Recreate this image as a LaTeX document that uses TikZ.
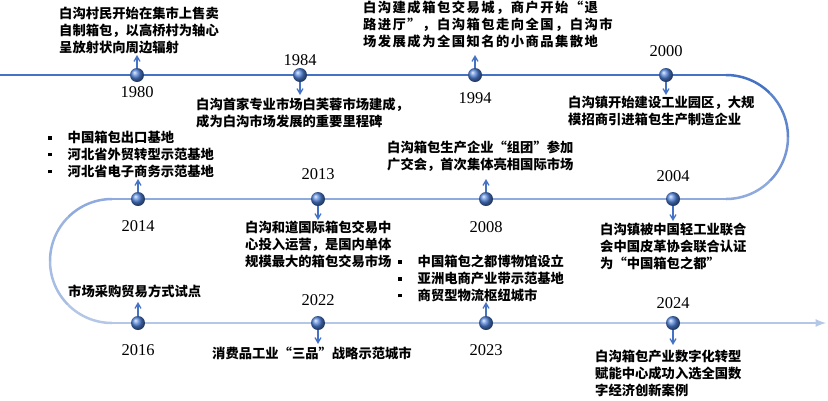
\documentclass[tikz,border=0pt]{standalone}
\usepackage{fontspec}
\setmainfont{Liberation Serif}
\newfontfamily\cjk{Noto Sans CJK SC}
\usepackage{tikz}
\usetikzlibrary{arrows,calc}
\definecolor{lineA}{RGB}{68,114,196}
\definecolor{lineB}{RGB}{143,170,220}
\definecolor{lineC}{RGB}{180,199,231}
\definecolor{dotblue}{RGB}{78,128,215}
\newcommand{\sqbul}{\rule[3pt]{3.5pt}{3.5pt}\hspace{16pt}}

\begin{document}
\begin{tikzpicture}[x=1pt,y=-1pt,
    yr/.style={font=\fontsize{16.5}{18}\selectfont},
    ev/.style={anchor=north west,inner sep=0pt,align=left,
      font=\cjk\bfseries\fontsize{13.3}{16.8}\selectfont},
    evw/.style={ev,font=\cjk\bfseries\fontsize{13.3}{16.8}\selectfont\addfontfeature{LetterSpace=11}},
    tdot/.style={circle,inner sep=0pt,minimum size=14pt,ball color=dotblue}]
    \useasboundingbox (0,0) rectangle (828,400);
    % the winding line
    \draw[lineA,line width=2.5pt] (0,75) -- (726,75);
    \foreach \a/\c in {-90/100,-45/67,0/33,45/0}
      \draw[lineA!\c!lineB,line width=2.5pt] ($(726,137)+(\a:62)$) arc(\a:\a+45:62);
    \draw[lineB,line width=2.5pt] (726,199) -- (112,199);
    \foreach \a/\c in {270/100,225/67,180/33,135/0}
      \draw[lineB!\c!lineC,line width=2.5pt] ($(112,261)+(\a:62)$) arc(\a:\a-45:62);
    \draw[lineC,line width=2.5pt,->,>=latex] (112,323) -- (826,323);

    % dots and tips
    \node[tdot] (D1980) at (137,75) {};  \coordinate (P1980) at (137,55);
    \node[tdot] (D1984) at (300,75) {};  \coordinate (P1984) at (300,95);
    \node[tdot] (D1994) at (475,75) {};  \coordinate (P1994) at (475,55);
    \node[tdot] (D2000) at (666,75) {};  \coordinate (P2000) at (666,95);
    \node[tdot] (D2004) at (673,199) {}; \coordinate (P2004) at (673,221);
    \node[tdot] (D2008) at (486,199) {}; \coordinate (P2008) at (486,179);
    \node[tdot] (D2013) at (318,199) {}; \coordinate (P2013) at (318,220);
    \node[tdot] (D2014) at (138,199) {}; \coordinate (P2014) at (138,179);
    \node[tdot] (D2016) at (138,323) {}; \coordinate (P2016) at (138,302);
    \node[tdot] (D2022) at (318,323) {}; \coordinate (P2022) at (318,344);
    \node[tdot] (D2023) at (486,323) {}; \coordinate (P2023) at (486,302);
    \node[tdot] (D2024) at (673,323) {}; \coordinate (P2024) at (673,345);
    \path[->,>=angle 60,line width=1.3pt,color=lineA]
      (D1980) edge (P1980)
      (D1984) edge (P1984)
      (D1994) edge (P1994)
      (D2000) edge (P2000)
      (D2004) edge (P2004)
      (D2008) edge (P2008)
      (D2013) edge (P2013)
      (D2014) edge (P2014)
      (D2016) edge (P2016)
      (D2022) edge (P2022)
      (D2023) edge (P2023)
      (D2024) edge (P2024);

    % years
    \node[yr] (Y1980) at (137,92) {1980};
    \node[yr] (Y1984) at (300,60) {1984};
    \node[yr] (Y1994) at (475,98) {1994};
    \node[yr] (Y2000) at (666,51) {2000};
    \node[yr] (Y2004) at (673,176) {2004};
    \node[yr] (Y2008) at (486,227) {2008};
    \node[yr] (Y2013) at (318,174) {2013};
    \node[yr] (Y2014) at (138,226) {2014};
    \node[yr] (Y2016) at (138,350) {2016};
    \node[yr] (Y2022) at (318,300) {2022};
    \node[yr] (Y2023) at (486,350) {2023};
    \node[yr] (Y2024) at (673,303) {2024};

    % events
    \node[ev] (T1980) at (59,7) {白沟村民开始在集市上售卖\\自制箱包，以高桥村为轴心\\呈放射状向周边辐射};
    \node[ev] (T1984) at (196,98) {白沟首家专业市场白芙蓉市场建成，\\成为白沟市场发展的重要里程碑};
    \node[evw] (T1994) at (363,1) {白沟建成箱包交易城，商户开始“退\\路进厅”，白沟箱包走向全国，白沟市\\场发展成为全国知名的小商品集散地};
    \node[ev] (T2000) at (568,96) {白沟镇开始建设工业园区，大规\\模招商引进箱包生产制造企业};
    \node[ev] (T2004) at (600,223) {白沟镇被中国轻工业联合\\会中国皮革协会联合认证\\为“中国箱包之都”};
    \node[ev] (T2008) at (387,141) {白沟箱包生产企业“组团”参加\\广交会，首次集体亮相国际市场};
    \node[ev] (T2013) at (245,221) {白沟和道国际箱包交易中\\心投入运营，是国内单体\\规模最大的箱包交易市场};
    \node[ev] (T2014) at (48,131) {\sqbul 中国箱包出口基地\\\sqbul 河北省外贸转型示范基地\\\sqbul 河北省电子商务示范基地};
    \node[ev] (T2016) at (68,285) {市场采购贸易方式试点};
    \node[ev] (T2022) at (212,347) {消费品工业“三品”战略示范城市};
    \node[ev] (T2023) at (398,255) {\sqbul 中国箱包之都博物馆设立\\\sqbul 亚洲电商产业带示范基地\\\sqbul 商贸型物流枢纽城市};
    \node[ev] (T2024) at (595,350) {白沟箱包产业数字化转型\\赋能中心成功入选全国数\\字经济创新案例};
  \end{tikzpicture}
\end{document}
